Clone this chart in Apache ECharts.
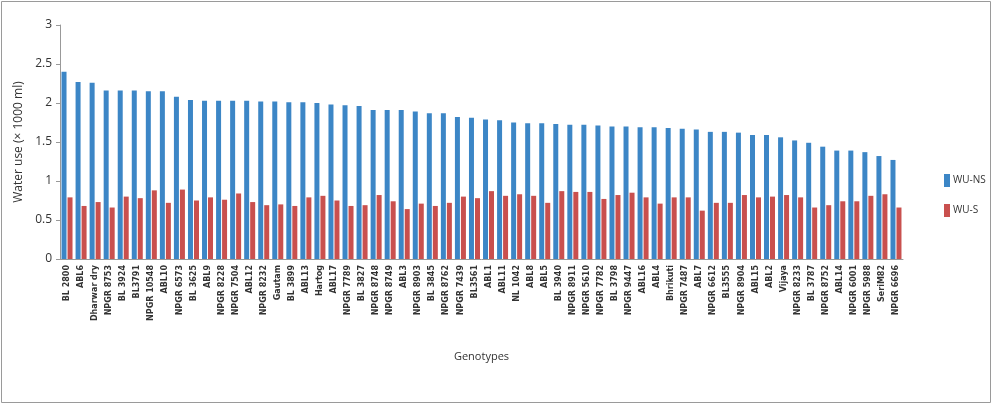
<!DOCTYPE html>
<html>
<head>
<meta charset="utf-8">
<script src="https://cdn.jsdelivr.net/npm/echarts@6/dist/echarts.min.js"></script>
<style>
html,body{margin:0;padding:0;background:#fff;}
#chart{width:993px;height:405px;}
</style>
</head>
<body>
<div id="chart"></div>
<script>
const categories = ["BL 2800","ABL6","Dharwar dry","NPGR 8753","BL 3924","BL3791","NPGR 10548","ABL10","NPGR 6573","BL 3625","ABL9","NPGR 8228","NPGR 7504","ABL12","NPGR 8232","Gautam","BL 3899","ABL13","Hartog","ABL17","NPGR 7789","BL 3827","NPGR 8748","NPGR 8749","ABL3","NPGR 8903","BL 3845","NPGR 8762","NPGR 7439","BL3561","ABL1","ABL11","NL 1042","ABL8","ABL5","BL 3940","NPGR 8911","NPGR 5610","NPGR 7782","BL 3798","NPGR 9447","ABL16","ABL4","Bhrikuti","NPGR 7487","ABL7","NPGR 6612","BL3555","NPGR 8904","ABL15","ABL2","Vijaya","NPGR 8233","BL 3787","NPGR 8752","ABL14","NPGR 6001","NPGR 5988","SeriM82","NPGR 6696"];
const wuNS = [2.40,2.27,2.26,2.16,2.16,2.16,2.15,2.15,2.08,2.04,2.03,2.03,2.03,2.03,2.02,2.02,2.01,2.01,2.00,1.98,1.97,1.96,1.91,1.91,1.91,1.89,1.87,1.87,1.82,1.81,1.79,1.78,1.75,1.74,1.74,1.73,1.72,1.72,1.71,1.70,1.70,1.69,1.69,1.68,1.67,1.66,1.63,1.63,1.62,1.59,1.59,1.56,1.52,1.49,1.44,1.39,1.39,1.37,1.32,1.27];
const wuS = [0.79,0.68,0.73,0.66,0.80,0.78,0.88,0.72,0.89,0.75,0.79,0.76,0.84,0.73,0.69,0.70,0.68,0.79,0.81,0.75,0.68,0.69,0.82,0.74,0.64,0.71,0.68,0.72,0.80,0.78,0.87,0.81,0.83,0.81,0.72,0.87,0.86,0.86,0.77,0.82,0.85,0.79,0.71,0.79,0.79,0.62,0.72,0.72,0.82,0.79,0.80,0.82,0.79,0.66,0.69,0.74,0.74,0.81,0.83,0.66];
const yTicks = [0,0.5,1,1.5,2,2.5,3];

const chart = echarts.init(document.getElementById('chart'));
chart.setOption({
  animation:false,
  textStyle:{fontFamily:'Open Sans'},
  graphic:[{type:'rect',shape:{x:1.5,y:1.5,width:989,height:401},style:{fill:'none',stroke:'#9a9a9a',lineWidth:1}}],
  grid:{left:60,right:90,top:25,bottom:146,containLabel:false},
  legend:{
    orient:'vertical',left:944,top:174,itemWidth:6,itemHeight:13,itemGap:17,icon:'rect',padding:0,
    textStyle:{fontSize:10,color:'#333',fontFamily:'Open Sans',padding:[0,0,0,-2]},
    data:['WU-NS','WU-S']
  },
  xAxis:{
    type:'category',data:categories,
    name:'Genotypes',nameLocation:'middle',nameGap:92,
    nameTextStyle:{fontSize:11,color:'#333'},
    axisLine:{lineStyle:{color:'#999'}},
    axisTick:{alignWithLabel:false,interval:0,length:4,lineStyle:{color:'#999'}},
    axisLabel:{interval:0,rotate:90,fontSize:8,fontWeight:'bold',color:'#333',margin:6,fontFamily:'DejaVu Sans'}
  },
  yAxis:{
    type:'value',min:0,max:3,interval:0.5,
    name:'Water use (× 1000 ml)',nameLocation:'middle',nameGap:31,nameRotate:90,
    nameTextStyle:{fontSize:12,color:'#333'},
    axisLine:{show:true,lineStyle:{color:'#999'}},
    axisTick:{show:true,length:4,lineStyle:{color:'#999'}},
    splitLine:{show:false},
    axisLabel:{fontSize:12,color:'#333',margin:8,formatter:v=>yTicks.includes(v)?String(v):''}
  },
  series:[
    {name:'WU-NS',type:'bar',data:wuNS,barWidth:5,barGap:'20%',itemStyle:{color:'#3C86C6'}},
    {name:'WU-S',type:'bar',data:wuS,barWidth:5,barGap:'20%',itemStyle:{color:'#C9504E'}}
  ]
});
</script>
</body>
</html>
